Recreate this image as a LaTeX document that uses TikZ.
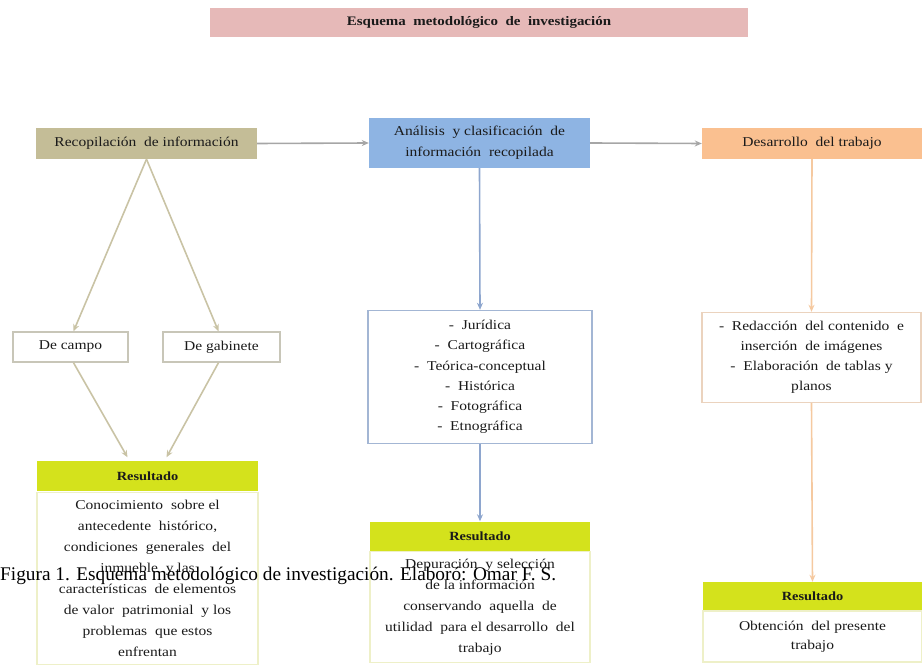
\documentclass[tikz,border=0pt]{standalone}
\usepackage{fontspec}
\setmainfont{Liberation Serif}
\newfontfamily\boxfont[FakeStretch=1.15]{Liberation Serif}
\usetikzlibrary{arrows.meta}
\definecolor{pinkc}{HTML}{E6B9B8}
\definecolor{khaki}{HTML}{C4BD97}
\definecolor{bluec}{HTML}{8EB4E3}
\definecolor{orangec}{HTML}{FAC090}
\definecolor{resc}{RGB}{212,226,28}
\definecolor{textc}{HTML}{1A1A1A}
\definecolor{grayline}{HTML}{A6A6A6}
\definecolor{khline}{HTML}{C9C3A5}
\definecolor{blline}{HTML}{8EA6CE}
\definecolor{orline}{HTML}{F5C9A0}
\definecolor{khborder}{HTML}{C8C6B8}
\definecolor{blborder}{HTML}{A3B6D4}
\definecolor{orborder}{HTML}{EBD3BE}
\definecolor{resborder}{HTML}{EEF0C8}
\begin{document}
\begin{tikzpicture}[x=1pt,y=-1pt,
  basebox/.style={rectangle, inner sep=0pt, align=center, text=textc,
    font=\boxfont\fontsize{13.5}{21}\selectfont},
  headbox/.style={basebox, minimum height=31pt},
  listbox/.style={basebox, draw, line width=1.4pt},
  reshead/.style={basebox, fill=resc, minimum height=30pt,
    font=\boxfont\bfseries\fontsize{12.5}{15}\selectfont},
  resbody/.style={basebox, draw=resborder, line width=1.4pt},
  conn/.style={line width=1.6pt, -{Stealth[length=7pt,width=6pt]}},
]
\useasboundingbox (0,0) rectangle (922,668);

% title
\node[basebox, fill=pinkc, minimum width=538pt, minimum height=29pt,
  font=\boxfont\bfseries\fontsize{13}{15}\selectfont] (title) at (479,22.5)
  {Esquema\ \ metodológico\ \ de\ \ investigación};

% top row
\node[headbox, fill=khaki, minimum width=221pt] (recop) at (146.5,143.5)
  {Recopilación\ \ de información};
\node[basebox, fill=bluec, minimum width=221pt, minimum height=50pt] (anal) at (479.5,143)
  {Análisis\ \ y clasificación\ \ de\\información\ \ recopilada};
\node[headbox, fill=orangec, minimum width=220pt] (desa) at (812,143.5)
  {Desarrollo\ \ del trabajo};

% second row
\node[listbox, draw=khborder, minimum width=115pt, minimum height=30pt] (campo) at (70.5,347) {De campo};
\node[listbox, draw=khborder, minimum width=117pt, minimum height=30pt] (gab) at (221.5,347) {De gabinete};

\node[listbox, draw=blborder, minimum width=224pt, minimum height=133pt,
  font=\boxfont\fontsize{13.5}{20.3}\selectfont] (list1) at (480,377)
  {-\ \ Jurídica\\-\ \ Cartográfica\\-\ \ Teórica-conceptual\\-\ \ Histórica\\-\ \ Fotográfica\\-\ \ Etnográfica};

\node[listbox, draw=orborder, minimum width=219pt, minimum height=90pt,
  font=\boxfont\fontsize{13.5}{20}\selectfont] (list2) at (811.5,357.5)
  {-\ \ Redacción\ \ del contenido\ \ e\\inserción\ \ de imágenes\\-\ \ Elaboración\ \ de tablas y\\planos};

% results
\node[reshead, minimum width=221pt] (res1h) at (147.5,476.5) {Resultado};
\node[resbody, minimum width=221pt, minimum height=172pt] (res1b) at (147.5,578.5)
  {Conocimiento\ \ sobre el\\antecedente\ \ histórico,\\condiciones\ \ generales\ \ del\\inmueble\ \ y las\\características\ \ de elementos\\de valor\ \ patrimonial\ \ y los\\problemas\ \ que estos\\enfrentan};

\node[reshead, minimum width=220pt] (res2h) at (480,536.5) {Resultado};
\node[resbody, minimum width=220pt, minimum height=111pt] (res2b) at (480,607)
  {Depuración\ \ y selección\\de la información\\conservando\ \ aquella\ \ de\\utilidad\ \ para el desarrollo\ \ del\\trabajo};

\node[reshead, minimum width=219pt, minimum height=29pt] (res3h) at (812.5,596.5) {Resultado};
\node[resbody, minimum width=219pt, minimum height=51pt,
  font=\boxfont\fontsize{13.5}{19}\selectfont] (res3b) at (812.5,636.5)
  {Obtención\ \ del presente\\trabajo};

% connectors
\draw[conn, grayline] (recop.east) -- (anal.west);
\draw[conn, grayline] (anal.east) -- (desa.west);
\draw[conn, khline] (recop.south) -- ([xshift=3pt]campo.north);
\draw[conn, khline] (recop.south) -- ([xshift=-3pt]gab.north);
\draw[conn, khline] ([xshift=3pt]campo.south) -- ([xshift=-20pt,yshift=4pt]res1h.north);
\draw[conn, khline] ([xshift=-3pt]gab.south) -- ([xshift=19pt,yshift=4pt]res1h.north);
\draw[conn, blline] (anal.south) -- (list1.north);
\draw[conn, blline] (list1.south) -- (res2h.north);
\draw[conn, orline] (desa.south) -- (list2.north);
\draw[conn, orline] (list2.south) -- (res3h.north);

% caption overlay
\node[anchor=base west, inner sep=0pt, text=black, font=\fontsize{19.3}{21}\selectfont] (cap) at (0,580)
  {Figura 1. Esquema metodológico de investigación. Elaboró: Omar F. S.};
\end{tikzpicture}
\end{document}
